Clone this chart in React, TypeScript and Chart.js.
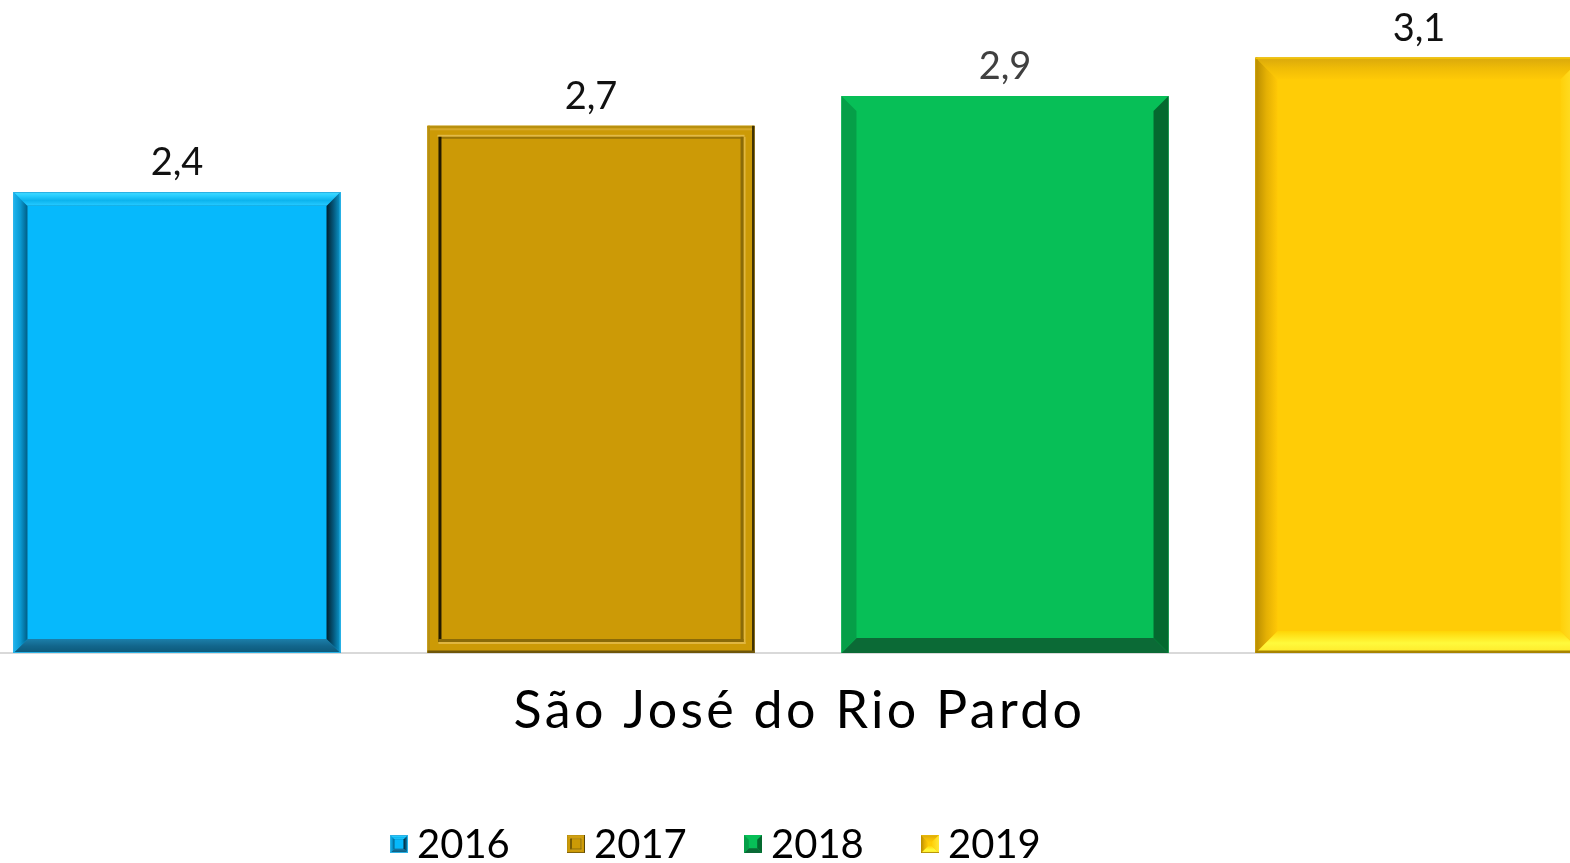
import React, { useEffect, useRef } from "react";
import { Chart, registerables } from "chart.js";

Chart.register(...registerables);

const categories = ["São José do Rio Pardo"];
const seriesNames = ["2016", "2017", "2018", "2019"];
const values2016 = [2.4];
const values2017 = [2.745];
const values2018 = [2.9];
const values2019 = [3.1];
const yMin = 0;
const yMax = 3.4;

const FONT = "Lato, 'DejaVu Sans', sans-serif";
const faceColors = ["#06B9FC", "#CC9A06", "#07BF57", "#FFCC06"];
const labelColors = ["#111111", "#111111", "#404040", "#111111"];

type Box = { l: number; t: number; r: number; b: number };

function poly(ctx: CanvasRenderingContext2D, pts: number[][], fill: string | CanvasGradient) {
  ctx.beginPath();
  ctx.moveTo(pts[0][0], pts[0][1]);
  for (let i = 1; i < pts.length; i++) ctx.lineTo(pts[i][0], pts[i][1]);
  ctx.closePath();
  ctx.fillStyle = fill;
  ctx.fill();
}

function lin(ctx: CanvasRenderingContext2D, x0: number, y0: number, x1: number, y1: number, stops: [number, string][]) {
  const g = ctx.createLinearGradient(x0, y0, x1, y1);
  stops.forEach(([o, c]) => g.addColorStop(o, c));
  return g;
}

function bevelSides(ctx: CanvasRenderingContext2D, bx: Box, s: number, top: any, left: any, right: any, bottom: any) {
  const { l, t, r, b } = bx;
  if (top) poly(ctx, [[l, t], [r, t], [r - s, t + s], [l + s, t + s]], top);
  if (bottom) poly(ctx, [[l, b], [r, b], [r - s, b - s], [l + s, b - s]], bottom);
  if (left) poly(ctx, [[l, t], [l + s, t + s], [l + s, b - s], [l, b]], left);
  if (right) poly(ctx, [[r, t], [r - s, t + s], [r - s, b - s], [r, b]], right);
}

function drawBar(ctx: CanvasRenderingContext2D, idx: number, bx: Box, scale: number) {
  const { l, t, r, b } = bx;
  ctx.save();
  ctx.fillStyle = faceColors[idx];
  ctx.fillRect(l, t, r - l, b - t);
  if (idx === 0) {
    const s = 14 * scale;
    bevelSides(
      ctx, bx, s,
      lin(ctx, 0, t, 0, t + s, [[0, "#48DCFF"], [0.25, "#2ACFFF"], [0.6, "#0CB4EE"], [0.92, "#22C8FF"], [1, "#0A9BD0"]]),
      lin(ctx, l, 0, l + s, 0, [[0, "#1AB4F0"], [0.5, "#0A98D0"], [1, "#005E86"]]),
      lin(ctx, r - s, 0, r, 0, [[0, "#00202E"], [0.5, "#05587C"], [1, "#0A9AD0"]]),
      lin(ctx, 0, b - s, 0, b, [[0, "#1C7FAA"], [0.5, "#12668C"], [1, "#0C5878"]])
    );
    ctx.strokeStyle = "#2AB0E4";
    ctx.lineWidth = 1;
    ctx.strokeRect(l + 0.5, t + 0.5, r - l - 1, b - t - 1);
  } else if (idx === 1) {
    const o = 2.5 * scale;
    const inn = 11 * scale;
    ctx.fillStyle = "#B8900F";
    ctx.fillRect(l, t, r - l, o);
    ctx.fillRect(l, t, o, b - t);
    ctx.fillStyle = "#3E3104";
    ctx.fillRect(r - o, t, o, b - t);
    ctx.fillStyle = "#6E560A";
    ctx.fillRect(l, b - o, r - l, o);
    ctx.fillStyle = "#D6A82A";
    ctx.fillRect(l + o, t + o, r - l - 2 * o, 2 * scale);
    const il = l + inn, it = t + inn, ir = r - inn, ib = b - inn;
    ctx.fillStyle = "#E2BA48";
    ctx.fillRect(il - 1, it - 2 * scale, ir - il + 2, 2 * scale);
    ctx.fillStyle = "#9A7608";
    ctx.fillRect(il, it, ir - il, 2 * scale);
    ctx.fillStyle = "#241B00";
    ctx.fillRect(il, it, 3 * scale, ib - it);
    ctx.fillStyle = "#E0B640";
    ctx.fillRect(ir, it, 2 * scale, ib - it + 2 * scale);
    ctx.fillRect(il, ib, ir - il + 2 * scale, 2 * scale);
    ctx.fillStyle = "#8A6A08";
    ctx.fillRect(ir - 3 * scale, it, 3 * scale, ib - it);
    ctx.fillRect(il, ib - 3 * scale, ir - il, 3 * scale);
  } else if (idx === 2) {
    const s = 15 * scale;
    bevelSides(ctx, bx, s, null, "#059F48", "#04692F", "#0B6A36");
  } else {
    const s = 22 * scale;
    bevelSides(
      ctx, bx, s,
      lin(ctx, 0, t, 0, t + s, [[0, "#D9A80C"], [0.5, "#F0BC06"], [1, "#FFCA06"]]),
      lin(ctx, l, 0, l + s, 0, [[0, "#B88C00"], [0.5, "#E4B004"], [1, "#FFC806"]]),
      lin(ctx, r - s, 0, r, 0, [[0, "#FFD00A"], [1, "#FFE83A"]]),
      lin(ctx, 0, b - s, 0, b, [[0, "#FFD506"], [0.55, "#FFFA3C"], [1, "#FFE82A"]])
    );
    ctx.fillStyle = "#C09300";
    ctx.fillRect(l, t, 2 * scale, b - t);
    ctx.fillStyle = "#A88400";
    ctx.fillRect(l, b - 2.5 * scale, r - l, 2.5 * scale);
    ctx.fillStyle = "#F0C20A";
    ctx.fillRect(l, t, r - l, 1.5 * scale);
  }
  ctx.restore();
}

const bevelPlugin = {
  id: "bevelBars",
  afterDatasetsDraw(chart: any) {
    const ctx: CanvasRenderingContext2D = chart.ctx;
    chart.data.datasets.forEach((ds: any, di: number) => {
      const meta = chart.getDatasetMeta(di);
      if (meta.hidden) return;
      meta.data.forEach((el: any, i: number) => {
        const p = el.getProps(["x", "y", "base", "width"], true);
        const bx = { l: p.x - p.width / 2, r: p.x + p.width / 2, t: p.y, b: p.base };
        drawBar(ctx, di, bx, 1);
        const v = ds.data[i] as number;
        ctx.save();
        ctx.font = `38px ${FONT}`;
        ctx.fillStyle = labelColors[di];
        ctx.textAlign = "center";
        ctx.textBaseline = "alphabetic";
        ctx.fillText(v.toFixed(1).replace(".", ","), p.x, p.y - 17);
        ctx.restore();
      });
    });
  },
  afterDraw(chart: any) {
    const ctx: CanvasRenderingContext2D = chart.ctx;
    const xs = chart.scales.x;
    const area = chart.chartArea;
    categories.forEach((c, i) => {
      ctx.save();
      ctx.font = `52px ${FONT}`;
      (ctx as any).letterSpacing = "3.3px";
      ctx.fillStyle = "#000";
      ctx.textAlign = "center";
      ctx.textBaseline = "alphabetic";
      ctx.fillText(c, xs.getPixelForValue(i) + 1.5, area.bottom + 75);
      ctx.restore();
    });
    const pitch = 177;
    const box = 18;
    const start = 420;
    const yBox = 835;
    seriesNames.forEach((name, i) => {
      const x = start + i * pitch;
      drawBar(ctx, i, { l: x, t: yBox, r: x + box, b: yBox + box }, 0.32);
      ctx.save();
      ctx.font = `40px ${FONT}`;
      ctx.fillStyle = "#000";
      ctx.textAlign = "left";
      ctx.textBaseline = "alphabetic";
      ctx.fillText(name, x + box + 9, 858);
      ctx.restore();
    });
  },
};

export default function App() {
  const ref = useRef<HTMLCanvasElement | null>(null);
  useEffect(() => {
    if (!ref.current) return;
    const chart = new Chart(ref.current, {
      type: "bar",
      data: {
        labels: categories,
        datasets: [
          { label: seriesNames[0], data: values2016, backgroundColor: faceColors[0] },
          { label: seriesNames[1], data: values2017, backgroundColor: faceColors[1] },
          { label: seriesNames[2], data: values2018, backgroundColor: faceColors[2] },
          { label: seriesNames[3], data: values2019, backgroundColor: faceColors[3] },
        ],
      },
      options: {
        responsive: false,
        animation: false,
        devicePixelRatio: 1,
        layout: { padding: { top: 0, left: 0, right: 0, bottom: 210 } },
        datasets: { bar: { categoryPercentage: 1, barPercentage: 0.79, borderWidth: 0 } },
        plugins: { legend: { display: false }, tooltip: { enabled: false } },
        scales: {
          x: {
            grid: { display: false, drawTicks: false, tickLength: 0 },
            border: { display: true, color: "#D9D9D9", width: 2 },
            ticks: { display: false },
          },
          y: { display: false, min: yMin, max: yMax },
        },
      },
      plugins: [bevelPlugin],
    });
    return () => chart.destroy();
  }, []);
  return (
    <div style={{ position: "fixed", left: 0, top: 0, width: 1570, height: 863, overflow: "hidden", background: "#fff" }}>
      <div style={{ position: "absolute", left: -30, top: 0, width: 1656, height: 863 }}>
        <canvas ref={ref} width={1656} height={863} style={{ width: 1656, height: 863 }} />
      </div>
    </div>
  );
}
